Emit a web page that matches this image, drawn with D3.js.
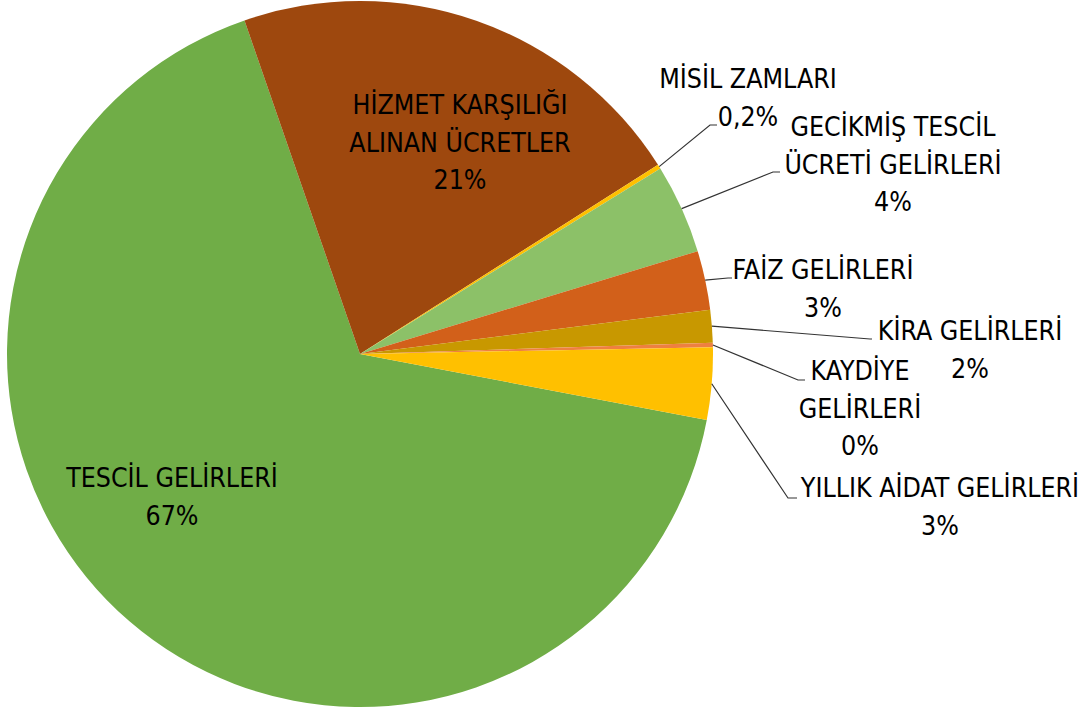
<!DOCTYPE html>
<html>
<head>
<meta charset="utf-8">
<script src="https://cdn.jsdelivr.net/npm/d3@7"></script>
<style>
  body { margin: 0; background: #fff; }
  svg text { font-family: "Liberation Sans Narrow", "DejaVu Sans Condensed", sans-serif; font-size: 26.5px; fill: #000; }
</style>
</head>
<body>
<svg id="pieSVG" width="1085" height="708"></svg>
<script>
// Categories and values (share of total, %)
var categories = ["TESCİL GELİRLERİ", "HİZMET KARŞILIĞI ALINAN ÜCRETLER", "MİSİL ZAMLARI",
    "GECİKMİŞ TESCİL ÜCRETİ GELİRLERİ", "FAİZ GELİRLERİ", "KİRA GELİRLERİ",
    "KAYDİYE GELİRLERİ", "YILLIK AİDAT GELİRLERİ"];
var values = [66.7, 21.3, 0.2, 4.1, 2.7, 1.5, 0.2, 3.3];
var percentLabels = ["67%", "21%", "0,2%", "4%", "3%", "2%", "0%", "3%"];
// label text split into lines
var labelLines = [
    ["TESCİL GELİRLERİ"],
    ["HİZMET KARŞILIĞI", "ALINAN ÜCRETLER"],
    ["MİSİL ZAMLARI"],
    ["GECİKMİŞ TESCİL", "ÜCRETİ GELİRLERİ"],
    ["FAİZ GELİRLERİ"],
    ["KİRA GELİRLERİ"],
    ["KAYDİYE", "GELİRLERİ"],
    ["YILLIK AİDAT GELİRLERİ"]
];
var colors = ["#70AD47", "#9E480E", "#FFC000", "#8CC168", "#D2601A", "#C89800", "#EE8040", "#FFC000"];

// Layout
var svg = d3.select("#pieSVG"),
    cx = 360, cy = 354, radius = 353,
    lineH = 37.5;

// label block layout: center x, first line center y, elbow point (x,y) of leader or null
var labelLayout = [
    { x: 172, y: 478, elbow: null },
    { x: 460, y: 105, elbow: null },
    { x: 748, y: 79, elbow: [710, 125, 717] },
    { x: 893, y: 127, elbow: [773, 172, 780] },
    { x: 823, y: 270, elbow: [728, 278, 732] },
    { x: 970, y: 331, elbow: [870, 339, 872] },
    { x: 860, y: 371, elbow: [798, 380, 805] },
    { x: 940, y: 488, elbow: [788, 498, 797] }
];

var pie = d3.pie()
    .sort(null)
    .value(function (d) { return d; })
    .startAngle(100.78 * Math.PI / 180)
    .endAngle(100.78 * Math.PI / 180 + 2 * Math.PI);

var arcs = pie(values);

var arc = d3.arc().innerRadius(0).outerRadius(radius);

var g = svg.append("g").attr("transform", "translate(" + cx + "," + cy + ")");

g.selectAll("path")
    .data(arcs)
    .enter()
    .append("path")
    .attr("d", arc)
    .attr("fill", function (d, i) { return colors[i]; });

// Leader lines
arcs.forEach(function (d, i) {
    var L = labelLayout[i];
    if (!L.elbow) return;
    var a = (d.startAngle + d.endAngle) / 2;
    var sx = cx + radius * Math.sin(a),
        sy = cy - radius * Math.cos(a);
    svg.append("polyline")
        .attr("points", [[sx, sy], [L.elbow[0], L.elbow[1]], [L.elbow[2], L.elbow[1]]].join(" "))
        .attr("fill", "none")
        .attr("stroke", "#333")
        .attr("stroke-width", 1.2);
});

// Labels
labelLayout.forEach(function (L, i) {
    var lines = labelLines[i].concat([percentLabels[i]]);
    var t = svg.append("text")
        .attr("text-anchor", "middle");
    lines.forEach(function (s, k) {
        t.append("tspan")
            .attr("x", L.x)
            .attr("y", L.y + k * lineH)
            .attr("dy", "0.35em")
            .text(s);
    });
});
</script>
</body>
</html>
